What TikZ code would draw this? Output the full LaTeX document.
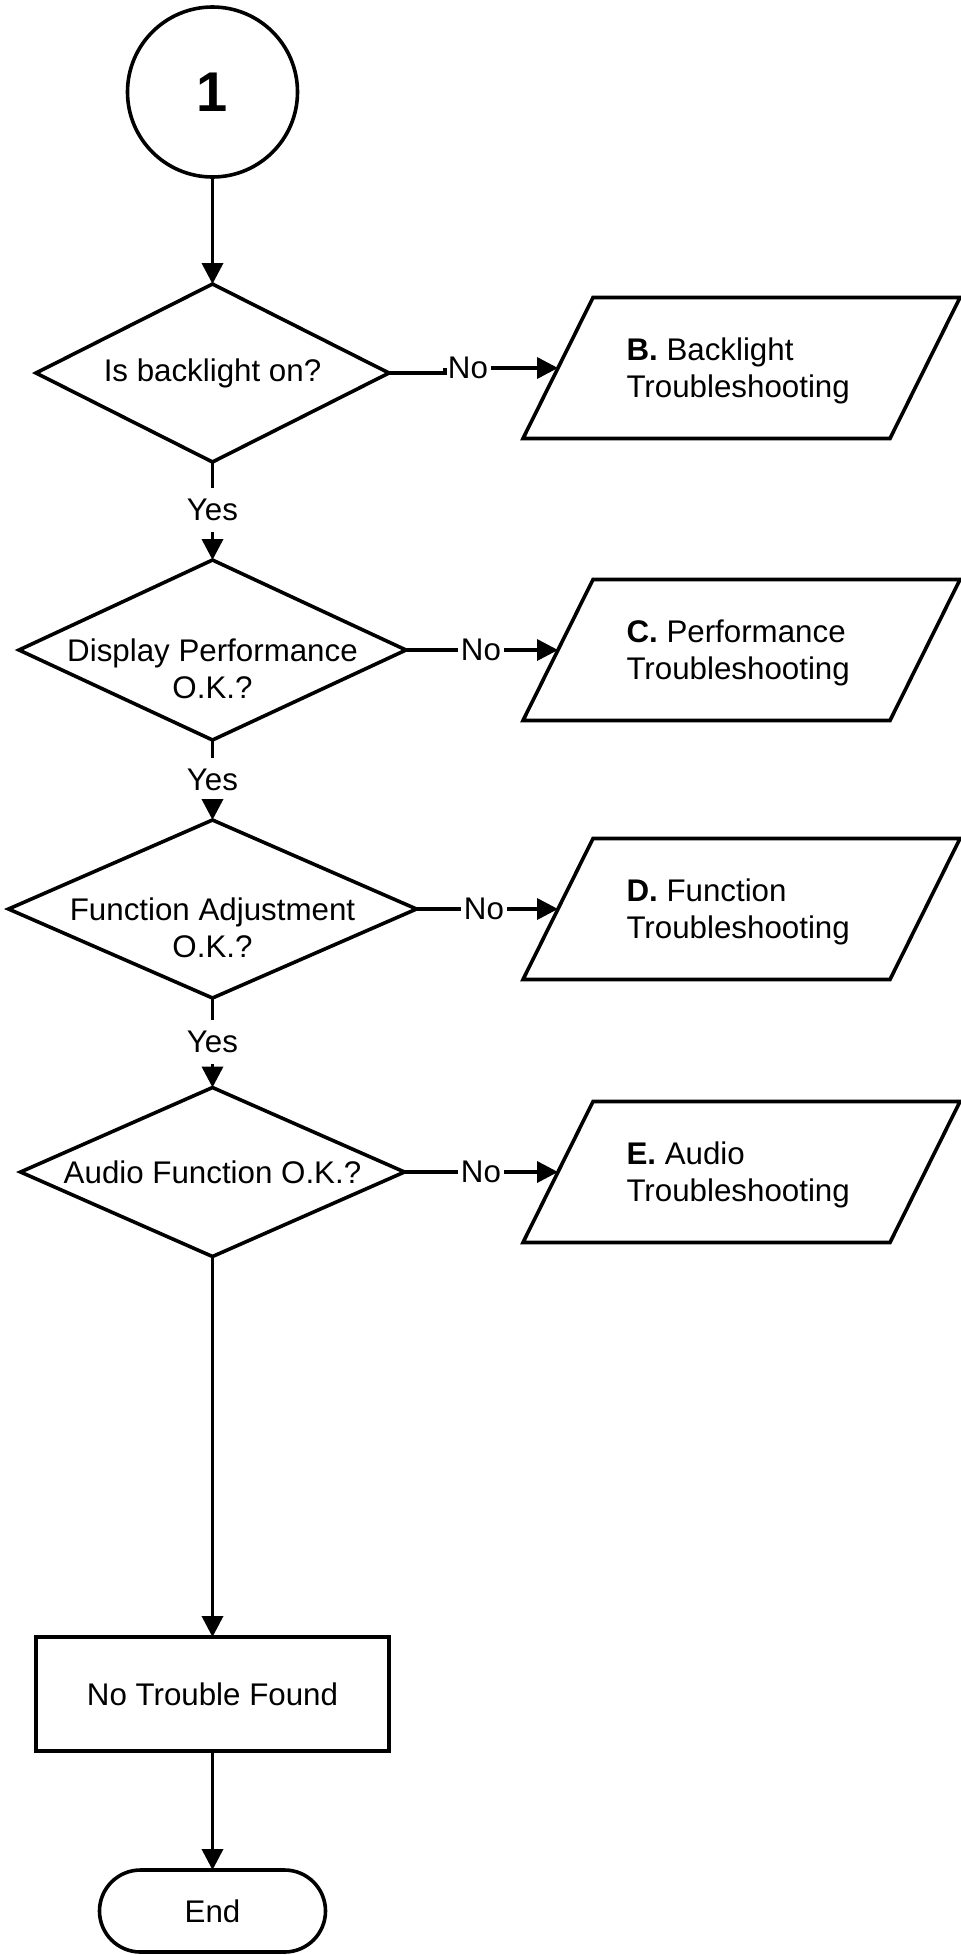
\documentclass[tikz,border=0pt]{standalone}
\usepackage{fontspec}
\setmainfont{Liberation Sans}
\usetikzlibrary{shapes.geometric,arrows.meta,calc}
\tikzset{
  ln/.style={line width=3.6pt, black},
  arr/.style={ln, -{Triangle[length=21pt,width=21pt]}},
  base/.style={font=\fontsize{31.3}{37.5}\selectfont, outer sep=0pt},
  dia/.style={diamond, draw, ln, inner sep=0pt, outer sep=0pt},
  txt/.style={base, inner sep=0pt, align=center},
  lbl/.style={base, inner xsep=3pt, inner ysep=11pt},
  ptxt/.style={base, inner sep=0pt, align=left, anchor=west},
  boxst/.style={base, draw, ln, rectangle, minimum width=353pt, minimum height=114pt},
  termst/.style={base, draw, ln, rectangle, rounded corners=41pt, minimum width=226pt, minimum height=82pt},
  conn/.style={draw, ln, circle, minimum size=170pt, outer sep=0pt, inner sep=0pt, font=\fontsize{56}{60}\selectfont\bfseries}
}
\newcommand\mypgram[3]{%
  \coordinate (#1c) at (741.5,#2);
  \draw[ln] ($(#1c)+(-148.5,-70.5)$) -- ++(367,0) -- ++(-70,141) -- ++(-367,0) -- cycle;
  \coordinate (#1w) at ($(#1c)+(-183.5,0)$);
  \node[ptxt] (#1) at ($(#1c)+(-115,3)$) {#3};
}
\begin{document}
\begin{tikzpicture}[x=1pt,y=-1pt]
\useasboundingbox (0,0) rectangle (961,1955);

\node[conn] (c1) at (212.5,92) {1};

\node[dia, minimum width=353pt, minimum height=178pt] (d1) at (212.5,373) {};
\node[txt] (t1) at (d1) {Is backlight on?};
\node[dia, minimum width=387pt, minimum height=180pt] (d2) at (212.5,650) {};
\node[txt, anchor=north] (t2) at (212.5,638.5) {Display Performance\\O.K.?};
\node[dia, minimum width=408pt, minimum height=178pt] (d3) at (212.5,909) {};
\node[txt, anchor=north] (t3) at (212.5,897.5) {Function Adjustment\\O.K.?};
\node[dia, minimum width=384pt, minimum height=169pt] (d4) at (212.5,1172) {};
\node[txt] (t4) at (d4) {Audio Function O.K.?};

\node[boxst] (nt) at (212.5,1694) {No Trouble Found};
\node[termst] (end) at (212.5,1911) {End};

\mypgram{pB}{368}{\textbf{B.} Backlight\\Troubleshooting}
\mypgram{pC}{650}{\textbf{C.} Performance\\Troubleshooting}
\mypgram{pD}{909}{\textbf{D.} Function\\Troubleshooting}
\mypgram{pE}{1172}{\textbf{E.} Audio\\Troubleshooting}

\node[lbl] (y1) at (212.5,510) {Yes};
\node[lbl] (y2) at (212.5,780) {Yes};
\node[lbl] (y3) at (212.5,1042) {Yes};

\node[lbl] (n1) at (468,368) {No};
\node[lbl] (n2) at (481,650) {No};
\node[lbl] (n3) at (484,909) {No};
\node[lbl] (n4) at (481,1172) {No};

\draw[arr] (c1.south) -- (d1.north);
\draw[ln] (d1.south) -- (y1.north);
\draw[arr] (y1.south) -- (d2.north);
\draw[ln] (d2.south) -- (y2.north);
\draw[arr] (y2.south) -- (d3.north);
\draw[ln] (d3.south) -- (y3.north);
\draw[arr] (y3.south) -- (d4.north);
\draw[arr] (d4.south) -- (nt.north);
\draw[arr] (nt.south) -- (end.north);

\draw[ln] (d1.east) -| (n1.west);
\draw[arr] (n1.east) -- (pBw);
\draw[ln] (d2.east) -- (n2.west);
\draw[arr] (n2.east) -- (pCw);
\draw[ln] (d3.east) -- (n3.west);
\draw[arr] (n3.east) -- (pDw);
\draw[ln] (d4.east) -- (n4.west);
\draw[arr] (n4.east) -- (pEw);
\end{tikzpicture}
\end{document}
